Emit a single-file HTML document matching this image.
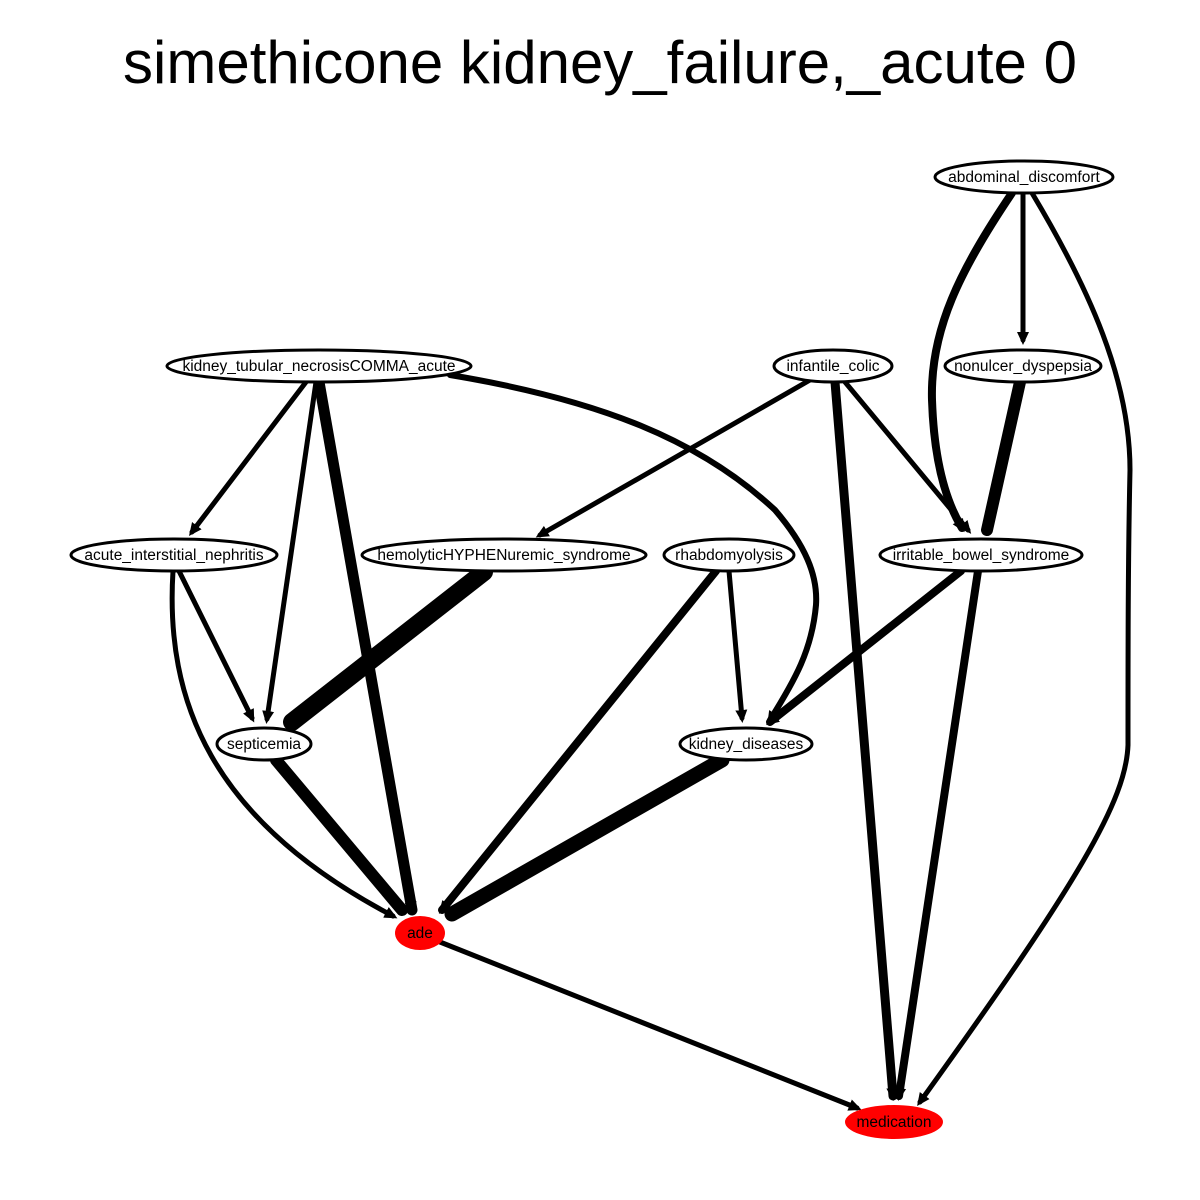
<!DOCTYPE html>
<html><head><meta charset="utf-8"><style>
html,body{margin:0;padding:0;background:#fff;}
svg{display:block;font-family:"Liberation Sans",Arial,sans-serif;}
</style></head><body>
<svg width="1200" height="1200" viewBox="0 0 1200 1200" xmlns="http://www.w3.org/2000/svg">
<defs>
<marker id="a" markerUnits="userSpaceOnUse" markerWidth="16" markerHeight="16" refX="8" refY="8" orient="auto" viewBox="0 0 16 16">
<path d="M0,2 L13,8 L0,14 Z" fill="#000"/>
</marker>
</defs>
<rect width="1200" height="1200" fill="#fff"/>
<text x="600" y="83" font-size="60" text-anchor="middle">simethicone kidney_failure,_acute 0</text>
<g fill="none" stroke="#000" stroke-linecap="round" marker-end="url(#a)">
<path d="M1012,193 C960,270 930,330 932,400 C934,460 945,500 962,528" stroke-width="8"/>
<path d="M1023,193 L1023,340" stroke-width="5"/>
<path d="M1032,193 C1090,290 1130,380 1130,470 C1128,560 1128,650 1128,745 C1126,800 1080,880 920,1102" stroke-width="5"/>
<path d="M306,382 L192,532" stroke-width="5"/>
<path d="M316,382 L267,719" stroke-width="5"/>
<path d="M319,382 L412,910" stroke-width="11"/>
<path d="M450,375 C600,400 700,440 775,510 C805,545 818,575 816,605 C812,650 795,680 770,720" stroke-width="6"/>
<path d="M810,380 L540,535" stroke-width="5"/>
<path d="M835,382 L893,1096" stroke-width="9"/>
<path d="M845,382 L968,530" stroke-width="5"/>
<path d="M1020,382 L987,530" stroke-width="12"/>
<path d="M179,571 L252,718" stroke-width="5"/>
<path d="M173,571 C165,700 210,820 393,916" stroke-width="5"/>
<path d="M484,572 L292,722" stroke-width="18"/>
<path d="M729,571 L742,718" stroke-width="5"/>
<path d="M716,571 L442,910" stroke-width="8"/>
<path d="M961,571 L770,722" stroke-width="8"/>
<path d="M978,571 L899,1096" stroke-width="8"/>
<path d="M276,760 L402,910" stroke-width="12"/>
<path d="M722,760 L452,914" stroke-width="15"/>
<path d="M440,942 L857,1108" stroke-width="5"/>
</g>
<g stroke="#000" stroke-width="3" fill="#fff">
<ellipse cx="1024" cy="177" rx="89" ry="16"/>
<ellipse cx="319" cy="366" rx="152" ry="16"/>
<ellipse cx="833" cy="366" rx="59" ry="16"/>
<ellipse cx="1023" cy="366" rx="78" ry="16"/>
<ellipse cx="174" cy="555" rx="103" ry="16"/>
<ellipse cx="504" cy="555" rx="142" ry="16"/>
<ellipse cx="729" cy="555" rx="65" ry="16"/>
<ellipse cx="981" cy="555" rx="101" ry="16"/>
<ellipse cx="264" cy="744" rx="47" ry="16"/>
<ellipse cx="746" cy="744" rx="66" ry="16"/>
</g>
<ellipse cx="420" cy="933" rx="25" ry="17" fill="#f00"/>
<ellipse cx="894" cy="1122" rx="49" ry="17" fill="#f00"/>
<g font-size="15.5" text-anchor="middle" fill="#000">
<text x="1024" y="182">abdominal_discomfort</text>
<text x="319" y="371">kidney_tubular_necrosisCOMMA_acute</text>
<text x="833" y="371">infantile_colic</text>
<text x="1023" y="371">nonulcer_dyspepsia</text>
<text x="174" y="560">acute_interstitial_nephritis</text>
<text x="504" y="560">hemolyticHYPHENuremic_syndrome</text>
<text x="729" y="560">rhabdomyolysis</text>
<text x="981" y="560">irritable_bowel_syndrome</text>
<text x="264" y="749">septicemia</text>
<text x="746" y="749">kidney_diseases</text>
<text x="420" y="938">ade</text>
<text x="894" y="1127">medication</text>
</g>
</svg>
</body></html>
